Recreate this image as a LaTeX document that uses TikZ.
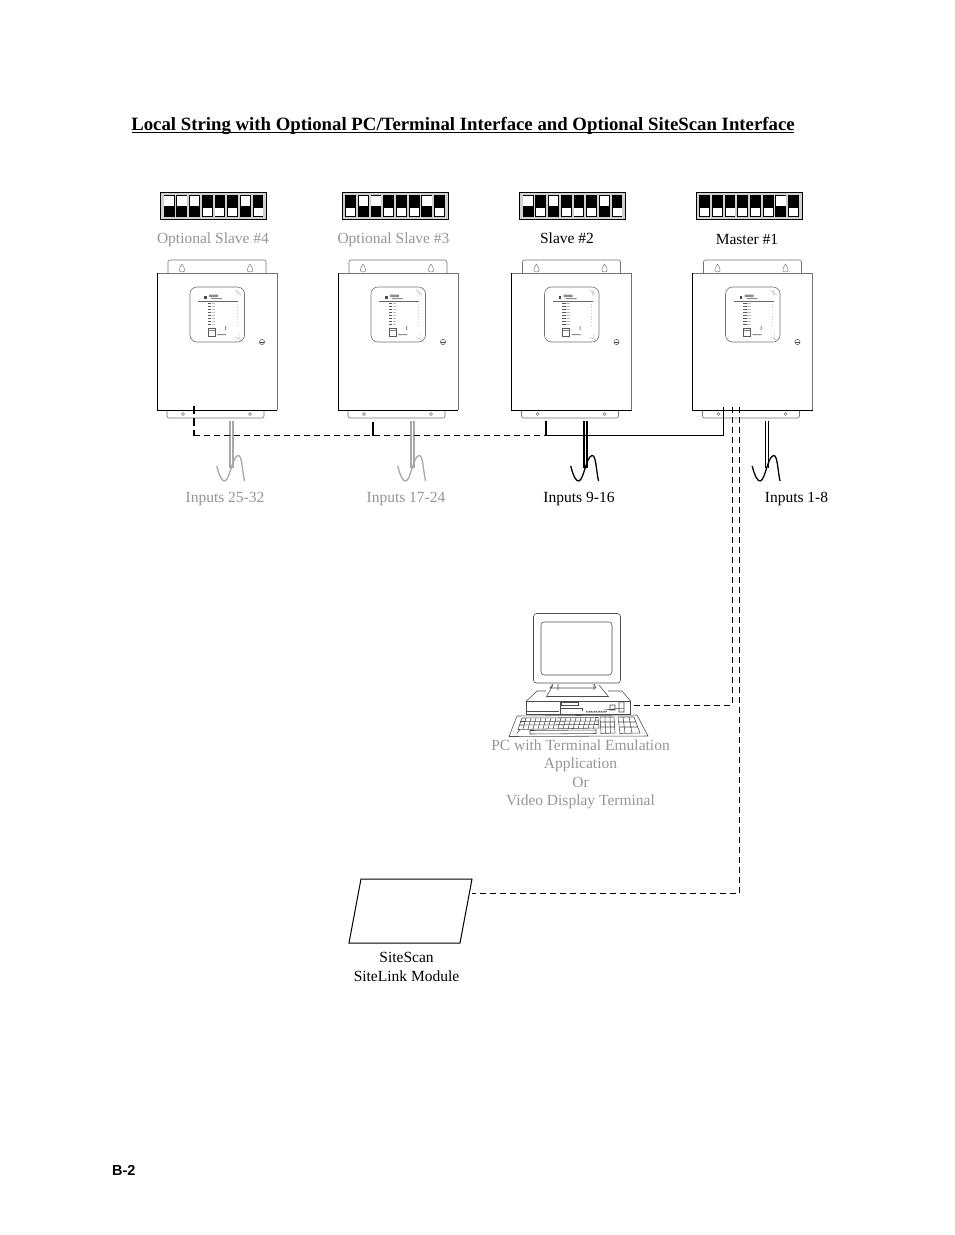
\documentclass[tikz,border=0pt]{standalone}
\usepackage{fontspec}
\setmainfont{Liberation Serif}
\newfontfamily\labelsans{Liberation Sans}
\definecolor{dim}{HTML}{969696}
\definecolor{pale}{HTML}{A8A8A8}
\tikzset{
  lbl/.style={font=\fontsize{15.5}{18}\selectfont,inner sep=0pt,anchor=base},
  dimlbl/.style={lbl,text=dim},
  bus/.style={line width=1.3pt},
  busdash/.style={bus,dash pattern=on 6pt off 4pt},
  stub/.style={line width=2pt},
  stubdash/.style={stub,dash pattern=on 8pt off 4pt},
  thindash/.style={line width=1pt,dash pattern=on 6pt off 4pt},
  pcline/.style={line width=0.55pt,draw=black!70},
  dip/.pic={
    \fill[black!18] (0,0) rectangle (106,27.5);
    \draw[line width=1pt] (0,0) rectangle (106,27.5);
    \coordinate (-c) at (53,14);
  },
  housing/.pic={
    \draw[line width=0.6pt,draw=black!55,rounded corners=2pt] (11,0) -- (11,-13) -- (109,-13) -- (109,0);
    \draw[line width=0.6pt,draw=black!55,rounded corners=2pt] (10,137) -- (10,145) -- (107,145) -- (107,137);
    \foreach \kx in {25,93}{
      \draw[line width=0.45pt,draw=black!55] (\kx,-9) .. controls (\kx+4,-3) and (\kx+3,-1) .. (\kx,-1) .. controls (\kx-3,-1) and (\kx-4,-3) .. (\kx,-9);
    }
    \draw[line width=0.45pt,draw=black!55] (26,141) circle (1.5) (93,141) circle (1.5);
    \draw[line width=0.7pt,draw=black!55] (0,0) -- (120,0) -- (120,137);
    \draw[line width=0.9pt] (0,0) -- (0,137) -- (120,137);
    \draw[line width=0.6pt,draw=black!55,rounded corners=7pt] (33,14) rectangle (87.5,69);
    \draw[line width=0.5pt,draw=black!60] (41,28) -- (81,28);
    \fill[black!70] (47,23) rectangle (49.5,25.5);
    \fill[black!45] (52,21.5) rectangle (61,24) (54,25) rectangle (65,26);
    \foreach \ky in {30,33,36,39,42,45,48,51}{
      \fill[black!65] (50.5,\ky) rectangle (54,\ky+1);
      \fill[black!25] (54.5,\ky) rectangle (58,\ky+1);
      \fill[black!20] (79.5,\ky+1) rectangle (80.5,\ky+2);
    }
    \draw[line width=0.5pt,draw=black!65] (51,55) rectangle (58,63);
    \draw[line width=0.4pt,draw=black!50] (51,57) -- (58,57);
    \fill[black!45] (68,53) rectangle (69,57) (60,61) rectangle (69,62);
    \draw[line width=0.35pt,draw=black!35] (78,17) -- (84,22) (81,17) -- (81,23) (78,64) -- (84,67) (82,60) -- (82,66);
    \draw[line width=0.5pt,draw=black!65] (105,69) circle (2.6);
    \fill[black!70] (102.8,68.5) rectangle (107.2,69.5);
    \coordinate (-sw) at (0,137);
  },
  pics/cablepic/.style={code={
    \draw[line width=1.1pt,draw=#1] (0,0) -- (0,47);
    \draw[line width=1.1pt,draw=#1] (3,0) -- (3,47);
    \draw[line width=1.3pt,draw=#1] (-13.3,45) .. controls (-11,54) and (-8,61) .. (-5,60)
       .. controls (0,58) and (2,36) .. (8,34.5)
       .. controls (12,34) and (12,48) .. (14.5,60);
  }},
}
\newcommand{\dipsw}[3]{%
  \pic (#1) at (#2,192) {dip};
  \foreach \st [count=\i from 0] in {#3}{
    \pgfmathsetmacro{\sx}{#2+3.2+12.7*\i}
    \fill[black] (\sx,195) rectangle ++(10.8,21.5);
    \ifnum\st=1
      \fill[white] (\sx+0.6,196) rectangle ++(9.6,9.5);
    \else
      \fill[white] (\sx+0.9,208) rectangle ++(9,8);
    \fi
  }%
}
\begin{document}
\begin{tikzpicture}[x=1pt,y=-1pt]
\useasboundingbox (0,0) rectangle (954,1235);
\fill[white] (0,0) rectangle (954,1235);

\node[font=\fontsize{18.78}{22}\selectfont\bfseries,inner sep=0pt,anchor=base] (title) at (463,130) {Local String with Optional PC/Terminal Interface and Optional SiteScan Interface};
\draw[line width=1.3pt] (132,132.5) -- (794,132.5);

\dipsw{d4}{160.5}{1,1,1,0,0,0,1,0}
\dipsw{d3}{342}{0,1,1,0,0,0,1,0}
\dipsw{d2}{519.5}{1,0,1,0,0,0,1,0}
\dipsw{d1}{696}{0,0,0,0,0,0,1,0}

\node[dimlbl] (l4) at (213,243) {Optional Slave \#4};
\node[dimlbl] (l3) at (393.5,243) {Optional Slave \#3};
\node[lbl] (l2) at (567,243) {Slave \#2};
\node[lbl] (l1) at (747,244) {Master \#1};

\pic (u4) at (157,273) {housing};
\pic (u3) at (338,273) {housing};
\pic (u2) at (511.5,273) {housing};
\pic (u1) at (692.5,273) {housing};

% cables
\pic at (230,421) {cablepic=pale};
\pic at (411,421) {cablepic=pale};
\pic at (584,421) {cablepic=black};
\pic at (765.5,421) {cablepic=black};

% bus
\coordinate (b4) at (194,435.5);
\coordinate (b3) at (373,435.5);
\coordinate (b2) at (546,435.5);
\coordinate (b1) at (723.5,435.5);
\coordinate (t4) at (194,406);
\coordinate (t3) at (373,422);
\coordinate (t2) at (546,421);
\coordinate (t1) at (723.5,407);
\draw[busdash] (b4) -- (b2);
\draw[bus] (b2) -- (b1);
\draw[stubdash] (t4) -- (b4);
\draw[stub] (t3) -- (b3);
\draw[stub] (t2) -- (b2);
\draw[line width=1pt] (t1) -- (b1);

\node[dimlbl] (i4) at (225,502) {Inputs 25-32};
\node[dimlbl] (i3) at (406,502) {Inputs 17-24};
\node[lbl] (i2) at (579,502) {Inputs 9-16};
\node[lbl] (i1) at (796.5,502) {Inputs 1-8};

% computer
\begin{scope}[pcline]
  \draw[rounded corners=3pt] (533.5,613.5) rectangle (620.5,683);
  \draw[rounded corners=3pt] (541,622) rectangle (612,675);
  \draw (553,684) -- (550,688) -- (596,688) -- (594,684);
  \draw (553,685) -- (546.5,696.5) -- (608.5,696.5) -- (599,685) (558,684) -- (558,690) (594,684) -- (594,690);
  \draw (526.5,701) -- (537,691) -- (546,691) (608,691) -- (622,691) -- (630.5,701);
  \draw (526.5,701) rectangle (630.5,714.5);
  \draw (526.5,711) -- (559,711) (560,701) -- (560,714) (561,702) rectangle (578,705) (561,708) -- (582,708) -- (582,711);
  \draw (586,712) -- (606,712) (610,705) rectangle (615,710) (619,702) rectangle (624,712) (604,710) -- (624,708);
  \draw[dash pattern=on 1pt off 1.5pt] (586,711) -- (607,711);
  \draw (517,716) -- (637,715) -- (648,736) -- (509,736.5) -- cycle;
  \draw (522,718) -- (598,717.5) -- (599,728) -- (518,729.5) -- cycle;
  \foreach \kx in {526,531,...,596} {\draw (\kx,718) -- (\kx-3,729);}
  \draw (520,721.5) -- (598,721) (519,725) -- (598,724.5);
  \draw (517,733.5) -- (520,729.5) (530,734) -- (596,733.5) -- (596,730) -- (530,730.5) -- cycle;
  \draw (600,717) -- (614,717) -- (615,733) -- (601,733.5) -- cycle (605,717) -- (605.5,733) (610,717) -- (610.5,733) (600,722) -- (615,722) (600,727) -- (615,727);
  \draw (618,717) -- (634,717) -- (640,733) -- (620,733.5) -- cycle (623,717) -- (625,733) (629,717) -- (632,733) (619,722) -- (636,722) (620,727) -- (638,727);
\end{scope}
\coordinate (pcport) at (632,705);
\node[dimlbl] (pc1) at (580.5,750) {PC with Terminal Emulation};
\node[dimlbl] (pc2) at (580.5,768) {Application};
\node[dimlbl] (pc3) at (580.5,787) {Or};
\node[dimlbl] (pc4) at (580.5,805) {Video Display Terminal};

% sitelink
\draw[line width=1pt] (361,879) -- (472,879) -- (460,943) -- (349,943) -- cycle;
\coordinate (siteport) at (472,893.5);
\node[lbl] (s1) at (406.5,962) {SiteScan};
\node[lbl] (s2) at (406.5,981) {SiteLink Module};

% dashed links
\coordinate (v1) at (732,407);
\coordinate (v1b) at (732,705);
\coordinate (v2) at (739,407);
\coordinate (v2b) at (739,893.5);
\draw[thindash] (v1) -- (v1b) -- (pcport);
\draw[thindash] (v2) -- (v2b) -- (siteport);

\node[font=\labelsans\bfseries\fontsize{14.5}{17}\selectfont,inner sep=0pt,anchor=west] (pg) at (112,1170) {B-2};
\end{tikzpicture}
\end{document}
